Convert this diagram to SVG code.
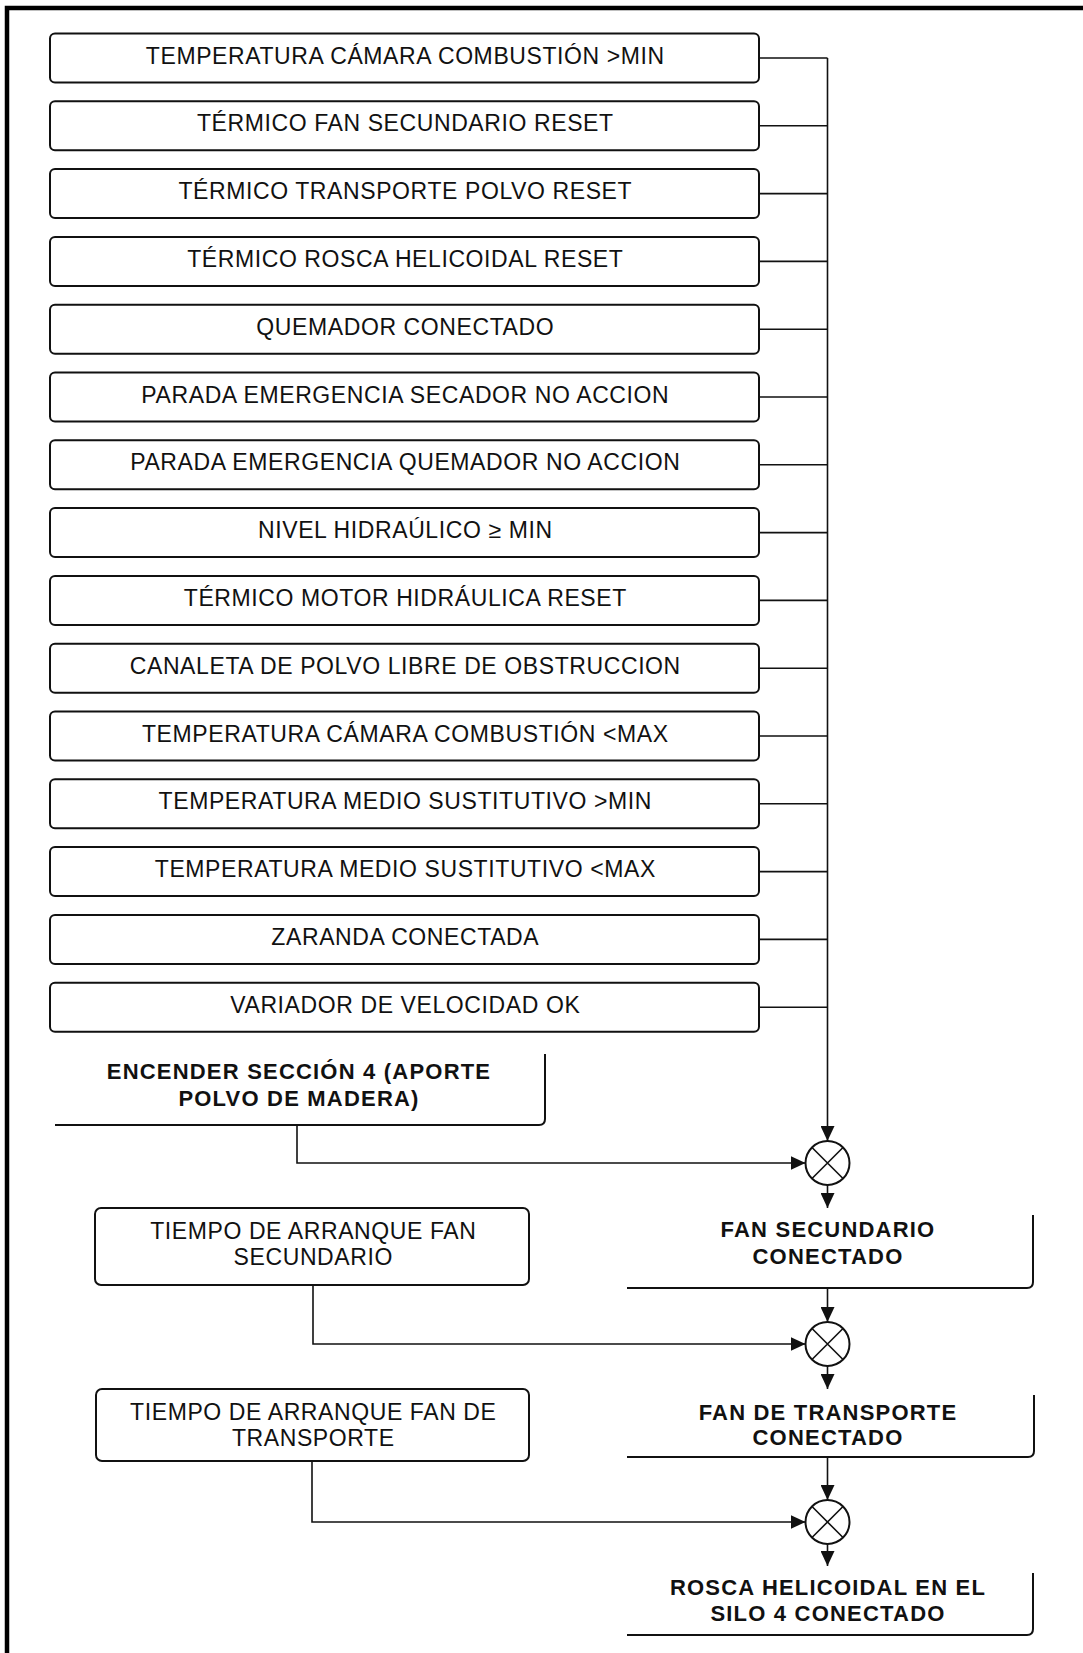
<svg xmlns="http://www.w3.org/2000/svg" width="1083" height="1653" viewBox="0 0 1083 1653">
  <style>
    .box { fill: #fff; stroke: #111; stroke-width: 2; }
    .open { fill: none; stroke: #111; stroke-width: 2; }
    .t { font-family: "Liberation Sans", Arial, sans-serif; font-size: 23px; letter-spacing: 0.6px; fill: #111; text-anchor: middle; }
    .b { font-family: "Liberation Sans", Arial, sans-serif; font-size: 22px; font-weight: bold; letter-spacing: 1.2px; fill: #111; text-anchor: middle; }
    .w { fill: none; stroke: #111; stroke-width: 1.6; }
    .sum { fill: #fff; stroke: #111; stroke-width: 2; }
    .frame { fill: none; stroke: #000; stroke-width: 4.5; }
  </style>
  <defs>
    <marker id="arr" viewBox="0 0 15 14" refX="15" refY="7" markerWidth="15" markerHeight="14" orient="auto" markerUnits="userSpaceOnUse">
      <path d="M0,0 L15,7 L0,14 z" fill="#111"/>
    </marker>
  </defs>

  <rect width="1083" height="1653" fill="#fff"/>

  <!-- page frame: top and left rules -->
  <path class="frame" d="M7,1653 V8 H1083"/>

  <!-- condition boxes -->
  <g id="c01"><rect class="box" x="50" y="33.5" width="709" height="49" rx="5"/><text class="t" x="405.3" y="63.5">TEMPERATURA CÁMARA COMBUSTIÓN &gt;MIN</text></g>
  <g id="c02"><rect class="box" x="50" y="101.3" width="709" height="49" rx="5"/><text class="t" x="405.3" y="131.3">TÉRMICO FAN SECUNDARIO RESET</text></g>
  <g id="c03"><rect class="box" x="50" y="169.1" width="709" height="49" rx="5"/><text class="t" x="405.3" y="199.1">TÉRMICO TRANSPORTE POLVO RESET</text></g>
  <g id="c04"><rect class="box" x="50" y="236.9" width="709" height="49" rx="5"/><text class="t" x="405.3" y="266.9">TÉRMICO ROSCA HELICOIDAL RESET</text></g>
  <g id="c05"><rect class="box" x="50" y="304.7" width="709" height="49" rx="5"/><text class="t" x="405.3" y="334.7">QUEMADOR CONECTADO</text></g>
  <g id="c06"><rect class="box" x="50" y="372.5" width="709" height="49" rx="5"/><text class="t" x="405.3" y="402.5">PARADA EMERGENCIA SECADOR NO ACCION</text></g>
  <g id="c07"><rect class="box" x="50" y="440.3" width="709" height="49" rx="5"/><text class="t" x="405.3" y="470.3">PARADA EMERGENCIA QUEMADOR NO ACCION</text></g>
  <g id="c08"><rect class="box" x="50" y="508.1" width="709" height="49" rx="5"/><text class="t" x="405.3" y="538.1">NIVEL HIDRAÚLICO ≥ MIN</text></g>
  <g id="c09"><rect class="box" x="50" y="575.9" width="709" height="49" rx="5"/><text class="t" x="405.3" y="605.9">TÉRMICO MOTOR HIDRÁULICA RESET</text></g>
  <g id="c10"><rect class="box" x="50" y="643.7" width="709" height="49" rx="5"/><text class="t" x="405.3" y="673.7">CANALETA DE POLVO LIBRE DE OBSTRUCCION</text></g>
  <g id="c11"><rect class="box" x="50" y="711.5" width="709" height="49" rx="5"/><text class="t" x="405.3" y="741.5">TEMPERATURA CÁMARA COMBUSTIÓN &lt;MAX</text></g>
  <g id="c12"><rect class="box" x="50" y="779.3" width="709" height="49" rx="5"/><text class="t" x="405.3" y="809.3">TEMPERATURA MEDIO SUSTITUTIVO &gt;MIN</text></g>
  <g id="c13"><rect class="box" x="50" y="847.1" width="709" height="49" rx="5"/><text class="t" x="405.3" y="877.1">TEMPERATURA MEDIO SUSTITUTIVO &lt;MAX</text></g>
  <g id="c14"><rect class="box" x="50" y="914.9" width="709" height="49" rx="5"/><text class="t" x="405.3" y="944.9">ZARANDA CONECTADA</text></g>
  <g id="c15"><rect class="box" x="50" y="982.7" width="709" height="49" rx="5"/><text class="t" x="405.3" y="1012.7">VARIADOR DE VELOCIDAD OK</text></g>

  <!-- start command (open box) -->
  <g id="encender">
    <path class="open" d="M545,1054 V1119 Q545,1125 539,1125 H55"/>
    <text class="b" x="299" y="1079">ENCENDER SECCIÓN 4 (APORTE</text>
    <text class="b" x="299" y="1106">POLVO DE MADERA)</text>
  </g>

  <!-- start-up timers -->
  <g id="t_fan_sec">
    <rect class="box" x="95" y="1208" width="434" height="77" rx="6"/>
    <text class="t" x="313.3" y="1239">TIEMPO DE ARRANQUE FAN</text>
    <text class="t" x="313.3" y="1265">SECUNDARIO</text>
  </g>
  <g id="t_fan_tr">
    <rect class="box" x="96" y="1389" width="433" height="72" rx="6"/>
    <text class="t" x="313.3" y="1419.5">TIEMPO DE ARRANQUE FAN DE</text>
    <text class="t" x="313.3" y="1446">TRANSPORTE</text>
  </g>

  <!-- outputs (open boxes) -->
  <g id="o_fan_sec">
    <path class="open" d="M1033,1215 V1282 Q1033,1288 1027,1288 H627"/>
    <text class="b" x="828" y="1237">FAN SECUNDARIO</text>
    <text class="b" x="828" y="1264">CONECTADO</text>
  </g>
  <g id="o_fan_tr">
    <path class="open" d="M1034,1395 V1451 Q1034,1457 1028,1457 H627"/>
    <text class="b" x="828" y="1420">FAN DE TRANSPORTE</text>
    <text class="b" x="828" y="1445">CONECTADO</text>
  </g>
  <g id="o_rosca">
    <path class="open" d="M1033,1573 V1629 Q1033,1635 1027,1635 H627"/>
    <text class="b" x="828" y="1595">ROSCA HELICOIDAL EN EL</text>
    <text class="b" x="828" y="1621">SILO 4 CONECTADO</text>
  </g>

  <!-- AND junctions -->
  <g id="and1"><circle class="sum" cx="827.5" cy="1163" r="22"/><path class="w" d="M812,1147.5 L843,1178.5 M843,1147.5 L812,1178.5"/></g>
  <g id="and2"><circle class="sum" cx="827.5" cy="1344" r="22"/><path class="w" d="M812,1328.5 L843,1359.5 M843,1328.5 L812,1359.5"/></g>
  <g id="and3"><circle class="sum" cx="827.5" cy="1522" r="22"/><path class="w" d="M812,1506.5 L843,1537.5 M843,1506.5 L812,1537.5"/></g>

  <!-- connectors -->
  <g id="connectors">
    <path class="w" d="M759,58 H827.5 M759,125.8 H827.5 M759,193.6 H827.5 M759,261.4 H827.5 M759,329.2 H827.5 M759,397 H827.5 M759,464.8 H827.5 M759,532.6 H827.5 M759,600.4 H827.5 M759,668.2 H827.5 M759,736 H827.5 M759,803.8 H827.5 M759,871.6 H827.5 M759,939.4 H827.5 M759,1007.2 H827.5"/>
    <path class="w" d="M827.5,58 V1141" marker-end="url(#arr)"/>
    <path class="w" d="M297,1125 V1163 H805.5" marker-end="url(#arr)"/>
    <path class="w" d="M827.5,1185 V1208" marker-end="url(#arr)"/>
    <path class="w" d="M827.5,1288 V1322" marker-end="url(#arr)"/>
    <path class="w" d="M313,1285 V1344 H805.5" marker-end="url(#arr)"/>
    <path class="w" d="M827.5,1366 V1389" marker-end="url(#arr)"/>
    <path class="w" d="M827.5,1457 V1500" marker-end="url(#arr)"/>
    <path class="w" d="M312,1461 V1522 H805.5" stroke-width="2.6" marker-end="url(#arr)"/>
    <path class="w" d="M827.5,1544 V1566" marker-end="url(#arr)"/>
  </g>
</svg>
